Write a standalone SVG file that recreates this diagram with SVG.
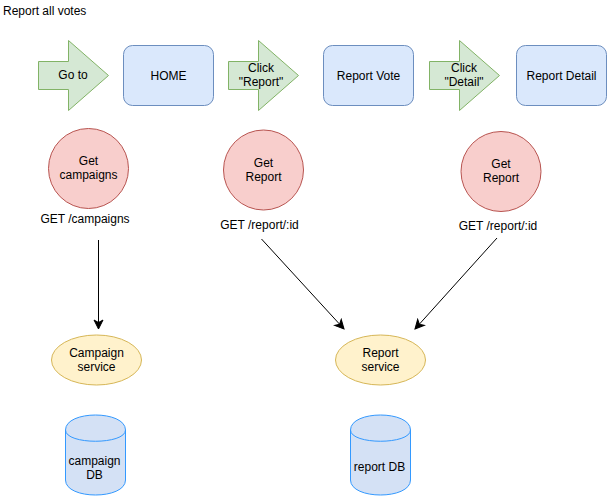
<svg xmlns="http://www.w3.org/2000/svg" width="607" height="496" viewBox="0 0 607 496">
<defs>
<style>
text{font-family:"Liberation Sans",Arial,sans-serif;font-size:12px;fill:#000}
.c{text-anchor:middle}
.step{fill:#d5e8d4;stroke:#82b366;stroke-width:1}
.page{fill:#dae8fc;stroke:#6c8ebf;stroke-width:1}
.call{fill:#f8cecc;stroke:#b85450;stroke-width:1}
.svc{fill:#fff2cc;stroke:#d6b656;stroke-width:1}
.db{fill:#d4e1f5;stroke:#3399ff;stroke-width:1}
.edge{fill:none;stroke:#000;stroke-width:1;marker-end:url(#arr)}
</style>
<marker id="arr" markerUnits="userSpaceOnUse" markerWidth="12" markerHeight="12" viewBox="-10 -6 12 12" refX="0" refY="0" orient="auto">
<path d="M0,0 L-9,-4.5 L-6.5,0 L-9,4.5 Z" fill="#000" stroke="#000" stroke-width="1"/>
</marker>
</defs>
<rect width="607" height="496" fill="#fff"/>
<text id="title" x="3" y="15">Report all votes</text>

<g id="goto">
<polygon class="step" points="38.5,61.5 68.5,61.5 68.5,40.5 108.5,75.5 68.5,110.5 68.5,89.5 38.5,89.5"/>
<text class="c" x="73" y="79">Go to</text>
</g>
<g id="home">
<rect class="page" x="123.5" y="45.5" width="90" height="60" rx="9" ry="9"/>
<text class="c" x="168.5" y="79.5">HOME</text>
</g>
<g id="clickReport">
<polygon class="step" points="228.5,61.5 258.5,61.5 258.5,40.5 298.5,75.5 258.5,110.5 258.5,89.5 228.5,89.5"/>
<text class="c" x="261" y="72">Click</text>
<text class="c" x="261" y="86">"Report"</text>
</g>
<g id="reportVote">
<rect class="page" x="323.5" y="45.5" width="90" height="60" rx="9" ry="9"/>
<text class="c" x="368.5" y="79.5">Report Vote</text>
</g>
<g id="clickDetail">
<polygon class="step" points="429.5,61.5 459.5,61.5 459.5,40.5 499.5,75.5 459.5,110.5 459.5,89.5 429.5,89.5"/>
<text class="c" x="464" y="72">Click</text>
<text class="c" x="464" y="86">"Detail"</text>
</g>
<g id="reportDetail">
<rect class="page" x="516.5" y="45.5" width="90" height="60" rx="9" ry="9"/>
<text class="c" x="561.5" y="79.5">Report Detail</text>
</g>

<g id="getCampaigns">
<circle class="call" cx="88.5" cy="168.5" r="40"/>
<text class="c" x="88.5" y="165">Get</text>
<text class="c" x="88.5" y="179">campaigns</text>
</g>
<text id="lblCampaigns" class="c" x="85" y="223">GET /campaigns</text>

<g id="getReport1">
<circle class="call" cx="263.5" cy="170" r="40"/>
<text class="c" x="263.5" y="166.5">Get</text>
<text class="c" x="263.5" y="180.5">Report</text>
</g>
<text id="lblReport1" class="c" x="259.5" y="228.5">GET /report/:id</text>

<g id="getReport2">
<circle class="call" cx="501" cy="171.5" r="40"/>
<text class="c" x="501" y="168">Get</text>
<text class="c" x="501" y="182">Report</text>
</g>
<text id="lblReport2" class="c" x="498" y="230">GET /report/:id</text>

<g id="campaignService">
<ellipse class="svc" cx="96.5" cy="360" rx="45" ry="25"/>
<text class="c" x="96.5" y="356.5">Campaign</text>
<text class="c" x="96.5" y="370.5">service</text>
</g>
<g id="reportService">
<ellipse class="svc" cx="380.5" cy="360" rx="45" ry="25"/>
<text class="c" x="380.5" y="356.5">Report</text>
<text class="c" x="380.5" y="370.5">service</text>
</g>

<g id="campaignDB">
<path class="db" d="M65.5,430 C65.5,410 125.5,410 125.5,430 L125.5,480 C125.5,500 65.5,500 65.5,480 Z"/>
<path class="db" fill="none" d="M65.5,430 C65.5,445 125.5,445 125.5,430" style="fill:none"/>
<text class="c" x="94.5" y="464.5">campaign</text>
<text class="c" x="94.5" y="478.5">DB</text>
</g>
<g id="reportDB">
<path class="db" d="M350.5,430 C350.5,410 410.5,410 410.5,430 L410.5,480 C410.5,500 350.5,500 350.5,480 Z"/>
<path class="db" d="M350.5,430 C350.5,445 410.5,445 410.5,430" style="fill:none"/>
<text class="c" x="379.5" y="471">report DB</text>
</g>

<g id="connectors">
<line class="edge" x1="98.5" y1="240" x2="98.5" y2="329"/>
<line class="edge" x1="261.5" y1="239" x2="344" y2="329"/>
<line class="edge" x1="497" y1="238" x2="415" y2="329"/>
</g>
</svg>
